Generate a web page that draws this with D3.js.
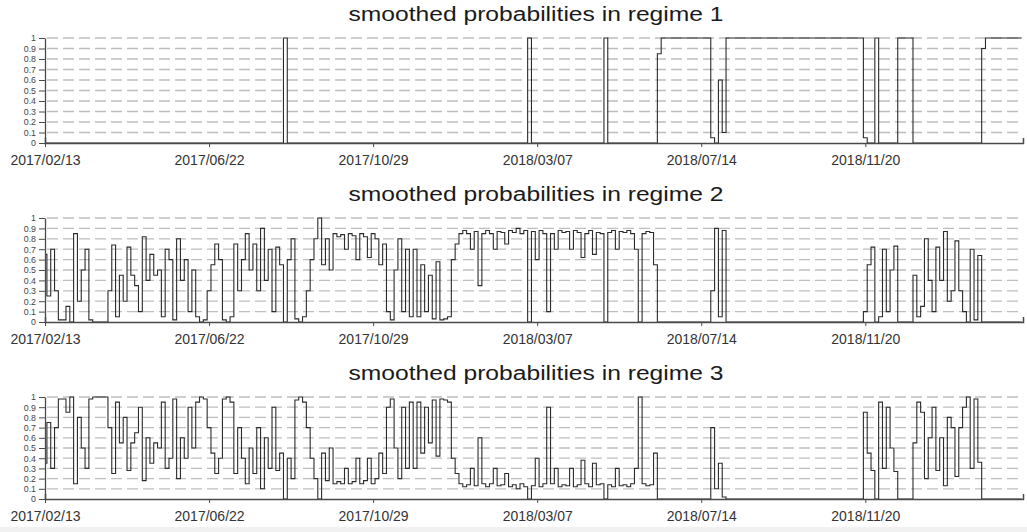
<!DOCTYPE html>
<html>
<head>
<meta charset="utf-8">
<script src="https://cdn.jsdelivr.net/npm/d3@7"></script>
<style>
  body { margin: 0; background: #ffffff; }
  svg { display: block; font-family: "Liberation Sans", Arial, sans-serif; }
</style>
</head>
<body>
<svg id="chart" width="1027" height="532"></svg>
<script>
// ---------------- DATA ----------------
const startDate = "2017/02/13";   // first observation
const endDate = "2019/03/24";     // right end of the time axis
const stepDays = 3;               // spacing between the stored observations
const tickLabels = ["2017/02/13", "2017/06/22", "2017/10/29", "2018/03/07", "2018/07/14", "2018/11/20"];
const yTickValues = [0, 0.1, 0.2, 0.3, 0.4, 0.5, 0.6, 0.7, 0.8, 0.9, 1];
const titles = [
  "smoothed probabilities in regime 1",
  "smoothed probabilities in regime 2",
  "smoothed probabilities in regime 3"
];

const regime1 = [
  0,0,0,0,0,0,0,0,0,0,
  0,0,0,0,0,0,0,0,0,0,
  0,0,0,0,0,0,0,0,0,0,
  0,0,0,0,0,0,0,0,0,0,
  0,0,0,0,0,0,0,0,0,0,
  0,0,0,0,0,0,0,0,0,0,
  0,0,0,1,0,0,0,0,0,0,
  0,0,0,0,0,0,0,0,0,0,
  0,0,0,0,0,0,0,0,0,0,
  0,0,0,0,0,0,0,0,0,0,
  0,0,0,0,0,0,0,0,0,0,
  0,0,0,0,0,0,0,0,0,0,
  0,0,0,0,0,0,0,1,0,0,
  0,0,0,0,0,0,0,0,0,0,
  0,0,0,0,0,0,0,1,0,0,
  0,0,0,0,0,0,0,0,0,0,
  0,0.85,1,1,1,1,1,1,1,1,
  1,1,1,1,1,0.05,0,0.6,0.1,1,
  1,1,1,1,1,1,1,1,1,1,
  1,1,1,1,1,1,1,1,1,1,
  1,1,1,1,1,1,1,1,1,1,
  1,1,1,1,1,0.05,0,0,1,0,
  0,0,0,0,1,1,1,1,0,0,
  0,0,0,0,0,0,0,0,0,0,
  0,0,0,0,0,0,0.9,1,1,1,
  1,1,1,1,1,1,1
];

const regime2 = [
  0.65,0.25,0.7,0.3,0.02,0.02,0.15,0,0.85,0.2,
  0.5,0.7,0.02,0,0,0,0,0.3,0.74,0.05,
  0.45,0.2,0.72,0.45,0.35,0.1,0.82,0.4,0.65,0.45,
  0.5,0.05,0.7,0.6,0.02,0.8,0.4,0.6,0.1,0.5,
  0.05,0,0.02,0.3,0.55,0.75,0.6,0.02,0,0.05,
  0.75,0.3,0.6,0.85,0.5,0.75,0.3,0.9,0.4,0.7,
  0.1,0.72,0.55,0,0.6,0.8,0.03,0,0.05,0.3,
  0.6,0.8,1,0.55,0.8,0.5,0.85,0.82,0.84,0.7,
  0.85,0.83,0.6,0.85,0.82,0.62,0.85,0.8,0.55,0.75,
  0.1,0.02,0.5,0.8,0.1,0.7,0.05,0.7,0.05,0.55,
  0.1,0.45,0.03,0.58,0.02,0.03,0.05,0.6,0.75,0.85,
  0.88,0.85,0.7,0.87,0.35,0.85,0.88,0.85,0.7,0.87,
  0.86,0.75,0.88,0.86,0.9,0.85,0.88,0,0.87,0.6,
  0.88,0.85,0.1,0.85,0.7,0.88,0.86,0.87,0.7,0.88,
  0.86,0.62,0.85,0.88,0.65,0.86,0.85,0,0.86,0.88,
  0.7,0.87,0.86,0.88,0.85,0.7,0,0.85,0.87,0.86,
  0.55,0,0,0,0,0,0,0,0,0,
  0,0,0,0,0,0.3,0.9,0.05,0.88,0,
  0,0,0,0,0,0,0,0,0,0,
  0,0,0,0,0,0,0,0,0,0,
  0,0,0,0,0,0,0,0,0,0,
  0,0,0,0,0,0.1,0.55,0.72,0,0.05,
  0.7,0.1,0.5,0.73,0,0,0,0,0.45,0.05,
  0.15,0.8,0.4,0.1,0.72,0.4,0.87,0.2,0.3,0.78,
  0.3,0.1,0,0.7,0.02,0.64,0,0,0,0,
  0,0,0,0,0,0,0
];

const regime3 = [
  0.35,0.75,0.3,0.7,0.98,0.98,0.85,1,0.15,0.8,
  0.5,0.3,0.98,1,1,1,1,0.7,0.25,0.95,
  0.55,0.8,0.28,0.55,0.65,0.9,0.18,0.6,0.35,0.55,
  0.5,0.95,0.3,0.4,0.98,0.2,0.6,0.4,0.9,0.5,
  0.95,1,0.98,0.7,0.45,0.25,0.4,0.98,1,0.95,
  0.25,0.7,0.4,0.15,0.5,0.25,0.7,0.1,0.6,0.3,
  0.9,0.28,0.45,0,0.4,0.2,0.97,1,0.95,0.7,
  0.4,0.2,0,0.45,0.18,0.5,0.15,0.17,0.15,0.3,
  0.15,0.17,0.4,0.15,0.18,0.4,0.15,0.2,0.45,0.25,
  0.9,0.98,0.5,0.2,0.9,0.3,0.95,0.3,0.95,0.45,
  0.9,0.55,0.97,0.42,0.98,0.97,0.95,0.4,0.25,0.15,
  0.12,0.14,0.3,0.13,0.6,0.15,0.12,0.15,0.3,0.13,
  0.14,0.25,0.12,0.14,0.1,0.15,0.12,0,0.13,0.4,
  0.12,0.15,0.9,0.15,0.3,0.12,0.14,0.13,0.3,0.12,
  0.14,0.38,0.15,0.12,0.35,0.14,0.15,0,0.14,0.12,
  0.3,0.13,0.14,0.12,0.15,0.3,1,0.15,0.13,0.14,
  0.45,0,0,0,0,0,0,0,0,0,
  0,0,0,0,0,0.7,0.1,0.35,0.02,0,
  0,0,0,0,0,0,0,0,0,0,
  0,0,0,0,0,0,0,0,0,0,
  0,0,0,0,0,0,0,0,0,0,
  0,0,0,0,0,0.85,0.45,0.28,0,0.95,
  0.3,0.9,0.5,0.27,0,0,0,0,0.55,0.95,
  0.85,0.2,0.6,0.9,0.28,0.6,0.13,0.8,0.7,0.22,
  0.7,0.9,1,0.3,0.98,0.36,0,0,0,0,
  0,0,0,0,0,0,0
];

// ---------------- LAYOUT ----------------
const parse = d3.timeParse("%Y/%m/%d");
const fmt = d3.timeFormat("%Y/%m/%d");
const plotLeft = 45, plotRight = 1023;
const layout = [
  { top: 38,  bottom: 143, titleY: 21 },
  { top: 218, bottom: 322, titleY: 201 },
  { top: 397, bottom: 499, titleY: 380 }
];
const seriesList = [regime1, regime2, regime3];

const svg = d3.select("#chart");

// faint band at the very bottom of the page
svg.append("rect").attr("x", 0).attr("y", 527).attr("width", 1027).attr("height", 5).attr("fill", "#f1f1f1");

const x = d3.scaleTime()
  .domain([parse(startDate), parse(endDate)])
  .range([plotLeft, plotRight]);

const start = parse(startDate);

seriesList.forEach((vals, p) => {
  const L = layout[p];
  const dates = vals.map((v, i) => d3.timeDay.offset(start, i * stepDays));
  const y = d3.scaleLinear().domain([0, 1]).range([L.bottom, L.top]);
  const g = svg.append("g");

  // title
  g.append("text")
    .attr("x", (plotLeft + plotRight) / 2 + 2)
    .attr("y", L.titleY)
    .attr("text-anchor", "middle")
    .attr("font-size", 20)
    .attr("fill", "#1a1a1a")
    .attr("textLength", 375)
    .attr("lengthAdjust", "spacingAndGlyphs")
    .text(titles[p]);

  // dashed grid lines
  g.append("g").selectAll("line")
    .data(yTickValues.filter(v => v > 0))
    .join("line")
    .attr("x1", plotLeft + 2).attr("x2", plotRight)
    .attr("y1", d => y(d)).attr("y2", d => y(d))
    .attr("stroke", "#bdbdbd")
    .attr("stroke-width", 1.3)
    .attr("stroke-dasharray", "11,5");

  // series line
  const line = d3.line()
    .x((d, i) => x(dates[i]))
    .y(d => y(d))
    .curve(d3.curveStep);
  g.append("path")
    .datum(vals)
    .attr("d", line)
    .attr("fill", "none")
    .attr("stroke", "#2b2b2b")
    .attr("stroke-width", 1.1)
    .attr("stroke-linejoin", "miter");

  // x axis
  const xAxis = d3.axisBottom(x)
    .tickValues(tickLabels.map(parse))
    .tickFormat(fmt)
    .tickSize(4)
    .tickSizeOuter(-5);
  const gx = g.append("g")
    .attr("transform", `translate(0,${L.bottom})`)
    .call(xAxis);
  gx.select(".domain").attr("stroke", "#4a4a4a").attr("stroke-width", 1.5);
  gx.selectAll(".tick line").attr("stroke", "#4a4a4a");
  gx.selectAll(".tick text")
    .attr("font-family", "Liberation Sans, Arial, sans-serif")
    .attr("font-size", 14)
    .attr("fill", "#333")
    .attr("y", 22)
    .attr("dy", 0);

  // y axis
  const yAxis = d3.axisLeft(y)
    .tickValues(yTickValues)
    .tickFormat(d3.format("~g"))
    .tickSize(6)
    .tickSizeOuter(0);
  const gy = g.append("g")
    .attr("transform", `translate(${plotLeft},0)`)
    .call(yAxis);
  gy.select(".domain").attr("stroke", "#4a4a4a").attr("stroke-width", 1.3);
  gy.selectAll(".tick line").attr("stroke", "#4a4a4a");
  gy.selectAll(".tick text")
    .attr("font-family", "Liberation Sans, Arial, sans-serif")
    .attr("font-size", 8.8)
    .attr("fill", "#444")
    .attr("x", -9);
});
</script>
</body>
</html>
